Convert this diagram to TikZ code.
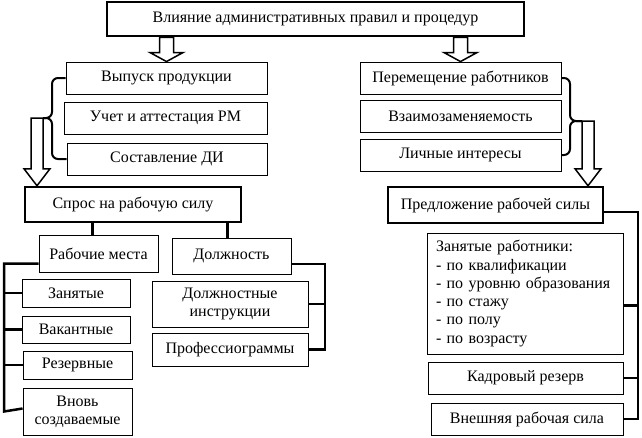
\documentclass[tikz,border=0pt]{standalone}
\usepackage{fontspec}
\setmainfont{Liberation Serif}
\usetikzlibrary{calc}

% hollow block arrow: top point, tip, shaft half width, head half width, head length
\newcommand{\hollowarrow}[5]{%
	\draw[arrowline] let \p1=#1, \p2=#2 in
		(\x1-#3,\y1) -- (\x1-#3,\y2+#5) -- (\x1-#4,\y2+#5) -- (\x2,\y2)
		-- (\x1+#4,\y2+#5) -- (\x1+#3,\y2+#5) -- (\x1+#3,\y1) -- cycle;}

\begin{document}
\begin{tikzpicture}[
	x=1pt, y=-1pt,
	every node/.style={
		draw=black,
		line width=0.9pt,
		align=center,
		inner sep=0pt,
		font=\fontsize{16}{18.3}\selectfont
	},
	size/.style 2 args={minimum width=#1, minimum height=#2},
	main/.style={line width=2.5pt},
	conn/.style={line width=2.5pt},
	brace/.style={line width=2pt, rounded corners=6pt},
	arrowline/.style={line width=1.5pt, fill=white}
]
\useasboundingbox (0,0) rectangle (642,437);

\node[main, size={417pt}{34pt}] (title) at (315.5,19) {Влияние административных правил и процедур};

% left column
\node[size={201pt}{32pt}] (output) at (166.5,78) {Выпуск продукции};
\node[size={203pt}{32pt}] (cert) at (165.5,118) {Учет и аттестация РМ};
\node[size={200pt}{32pt}] (jobdesc) at (167,159) {Составление ДИ};

% right column
\node[size={201pt}{32pt}] (move) at (460.5,78) {Перемещение работников};
\node[size={201pt}{32pt}] (swap) at (460.5,116) {Взаимозаменяемость};
\node[size={201pt}{32pt}] (interest) at (460.5,155) {Личные интересы};

\node[main, size={216pt}{35pt}] (demand) at (133,204.5) {Спрос на рабочую силу};
\node[main, size={215pt}{36pt}] (supply) at (495.5,205) {Предложение рабочей силы};

\node[size={119pt}{37pt}] (places) at (98.5,253.5) {Рабочие места};
\node[size={119pt}{36pt}] (posts) at (231.5,256) {Должность};

\node[size={108pt}{28pt}] (busy) at (76,293) {Занятые};
\node[size={108pt}{27pt}] (vacant) at (76,329.5) {Вакантные};
\node[size={109pt}{28pt}] (reserve) at (77.5,365) {Резервные};
\node[size={109pt}{47pt}] (newplaces) at (77.5,411.5) {Вновь\\создаваемые};

\node[size={156pt}{46pt}] (instr) at (230,304) {Должностные\\инструкции};
\node[size={156pt}{33pt}] (prof) at (230,349.5) {Профессиограммы};

\node[size={196pt}{121pt}, text width=178pt, align=left] (staff) at (525,293.5) {Занятые работники:\\- по квалификации\\- по уровню образования\\- по стажу\\- по полу\\- по возрасту};
\node[size={195pt}{32pt}] (cadre) at (525.5,378) {Кадровый резерв};
\node[size={192pt}{32pt}] (external) at (527,419) {Внешняя рабочая сила};

% braces
\coordinate (lbrace) at (52,118);
\coordinate (rbrace) at (570,121);
\draw[brace] (output.west) -| (lbrace) -- ++(-9,0);
\draw[brace] (jobdesc.west) -| (lbrace) -- ++(-9,0);
\draw[brace] (move.east) -| (rbrace) -- ++(12,0);
\draw[brace] (interest.east) -| (rbrace) -- ++(12,0);

% block arrows
\coordinate (larrow) at (37,118);
\coordinate (rarrow) at (588,121);
\hollowarrow{(title.south -| output.north)}{(output.north)}{7pt}{16.5pt}{9pt}
\hollowarrow{(title.south -| move.north)}{(move.north)}{7pt}{16.5pt}{9pt}
\hollowarrow{(larrow)}{(larrow |- demand.north)}{6pt}{13pt}{17pt}
\hollowarrow{(rarrow)}{(rarrow |- supply.north)}{6pt}{13pt}{17pt}

% demand side
\draw[conn] ([xshift=-6pt]places.north) coordinate (p1) -- (p1 |- demand.south);
\draw[conn] ([xshift=-4pt]posts.north) coordinate (p2) -- (p2 |- demand.south);

\coordinate (lbus) at (4,0);
\draw[conn] ([yshift=-10pt]places.west) -| (lbus |- newplaces.west) -- ([yshift=3pt]newplaces.west);
\foreach \n in {busy,vacant,reserve}
	\draw[conn] (lbus |- \n.west) -- (\n.west);

\coordinate (pbus) at (325,0);
\draw[conn] ([yshift=-8pt]posts.east) -| (pbus |- prof.east) -- (prof.east);
\draw[conn] (instr.east) -- (instr.east -| pbus);

% supply side
\coordinate (rbus) at (638,0);
\draw[conn] ([yshift=-7pt]supply.east) -| (rbus |- external.east) -- (external.east);
\draw[conn] ([yshift=-12pt]staff.east) coordinate (s1) -- (s1 -| rbus);
\draw[conn] (cadre.east) -- (cadre.east -| rbus);

\end{tikzpicture}
\end{document}
